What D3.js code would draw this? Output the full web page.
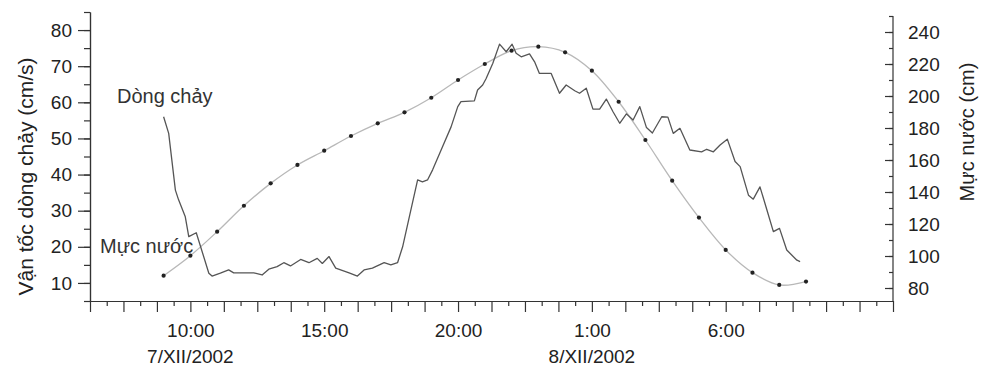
<!DOCTYPE html>
<html>
<head>
<meta charset="utf-8">
<script src="https://cdn.jsdelivr.net/npm/d3@7/dist/d3.min.js"></script>
<style>
body { margin: 0; background: #fff; }
svg { font-family: "Liberation Sans", Arial, sans-serif; }
</style>
</head>
<body>
<svg width="987" height="372"></svg>
<script>
// time is in hours counted from 7/XII/2002 0:00
var levelHours = [9, 10, 11, 12, 13, 14, 15, 16, 17, 18, 19, 20, 21, 22, 23, 24, 25, 26, 27, 28, 29, 30, 31, 32, 33];
var levelValues = [87.7, 100.2, 115.2, 131.4, 145.4, 156.9, 165.8, 175, 182.9, 189.8, 198.9, 210, 220, 228.3, 230.8,
	227.3, 215.8, 196.4, 172.5, 147.1, 124, 103.8, 89.6, 81.9, 84];

var flowHours = [9.00, 9.19, 9.44, 9.56, 9.81, 9.94, 10.22, 10.69, 10.81, 11.12, 11.43, 11.62, 11.93, 12.37, 12.68,
	12.93, 13.24, 13.49, 13.74, 14.12, 14.43, 14.74, 14.93, 15.18, 15.43, 15.93, 16.24, 16.49, 16.80, 17.24,
	17.49, 17.74, 17.93, 18.18, 18.49, 18.67, 18.86, 19.05, 19.42, 19.74, 19.99, 20.11, 20.61, 20.73, 20.92,
	21.05, 21.30, 21.55, 21.80, 22.02, 22.17, 22.36, 22.67, 22.86, 23.04, 23.48, 23.79, 24.04, 24.36, 24.54,
	24.79, 25.04, 25.29, 25.54, 25.79, 26.04, 26.29, 26.54, 26.79, 27.04, 27.26, 27.61, 27.84, 28.04, 28.29,
	28.66, 29.10, 29.29, 29.54, 29.79, 30.06, 30.35, 30.54, 30.85, 31.03, 31.28, 31.54, 31.78, 32.01, 32.28,
	32.66, 32.78];
var flowValues = [56.0, 51.4, 35.7, 33.0, 28.3, 22.8, 23.9, 12.7, 11.9, 12.7, 13.6, 12.8, 12.8, 12.8, 12.2,
	13.8, 14.5, 15.6, 14.7, 16.5, 15.6, 16.8, 15.4, 17.3, 14.1, 12.8, 11.9, 13.6, 14.1, 15.6,
	15.0, 15.6, 20.0, 28.3, 38.5, 38.0, 38.5, 41.3, 47.7, 53.2, 58.8, 60.2, 60.4, 63.4, 64.8,
	66.6, 70.8, 76.1, 74.0, 76.1, 73.6, 72.6, 73.4, 71.2, 68.0, 68.0, 62.5, 64.8, 63.2, 62.5,
	63.9, 58.1, 58.1, 60.9, 57.4, 54.2, 56.8, 55.1, 58.8, 53.0, 51.5, 56.0, 55.9, 51.4, 52.8,
	46.8, 46.3, 47.0, 46.3, 48.2, 49.8, 43.6, 42.2, 34.3, 33.2, 36.6, 30.2, 24.2, 25.1, 19.1,
	16.3, 15.9];

var hourLabelAt = [10, 15, 20, 25, 30];
var hourLabels = ['10:00', '15:00', '20:00', '1:00', '6:00'];
var dateLabelAt = [10, 25];
var dateLabels = ['7/XII/2002', '8/XII/2002'];

var svg = d3.select('svg');
var margin = { top: 12, right: 94, bottom: 71, left: 90 };
var width = +svg.attr('width') - margin.left - margin.right;
var height = +svg.attr('height') - margin.top - margin.bottom;
var g = svg.append('g').attr('transform', `translate(${margin.left}, ${margin.top})`);

var x = d3.scaleLinear().domain([6.25, 36.25]).range([0, width]);
var yL = d3.scaleLinear().domain([5, 85]).range([height, 0]);
var yR = d3.scaleLinear().domain([71.875, 252.5]).range([height, 0]);

var level = levelHours.map((t, i) => ({ t: t, v: levelValues[i] }));
var flow = flowHours.map((t, i) => ({ t: t, v: flowValues[i] }));

// axes
function styleAxis(a) {
	a.selectAll('path, line').attr('stroke', '#333').attr('stroke-width', 1.2);
	a.selectAll('text').attr('fill', '#222').style('font-size', '19px');
}

g.append('g')
	.call(d3.axisLeft(yL).tickValues(d3.range(5, 86, 5)).tickSize(6).tickSizeOuter(0).tickFormat(''))
	.call(styleAxis);
g.append('g')
	.call(d3.axisLeft(yL).tickValues(d3.range(10, 81, 10)).tickSize(12).tickSizeOuter(0).tickPadding(6))
	.call(styleAxis);

g.append('g')
	.attr('transform', `translate(${width}, 0)`)
	.call(d3.axisRight(yR).tickValues(d3.range(80, 251, 10)).tickSizeInner(-4).tickSizeOuter(0).tickFormat(''))
	.call(styleAxis)
	.call(a => a.select('.domain').attr('d', `M0,${yR(71.875)}V${yR(250)}`));
g.append('g')
	.attr('transform', `translate(${width}, 0)`)
	.call(d3.axisRight(yR).tickValues(d3.range(80, 241, 20)).tickSizeInner(-8).tickSizeOuter(0).tickPadding(15))
	.call(styleAxis)
	.call(a => a.select('.domain').remove());

g.append('g')
	.attr('transform', `translate(0, ${height})`)
	.call(d3.axisBottom(x).tickValues(d3.range(6.875, 36.25, 1.25)).tickSize(5).tickSizeOuter(0).tickFormat(''))
	.call(styleAxis);
g.append('g')
	.attr('transform', `translate(0, ${height})`)
	.call(d3.axisBottom(x).tickValues(d3.range(6.25, 36.3, 1.25)).tickSize(11).tickSizeOuter(0).tickPadding(12)
		.tickFormat(d => {
			var i = hourLabelAt.indexOf(d);
			return i < 0 ? '' : hourLabels[i];
		}))
	.call(styleAxis);

g.selectAll('.date-label')
	.data(dateLabels)
	.enter().append('text')
	.attr('class', 'date-label')
	.attr('x', (d, i) => x(dateLabelAt[i]))
	.attr('y', height + 62)
	.attr('text-anchor', 'middle')
	.attr('fill', '#222')
	.style('font-size', '19px')
	.text(d => d);

// axis titles
svg.append('text')
	.attr('transform', `translate(33, ${margin.top + height / 2 + 20}) rotate(-90)`)
	.attr('text-anchor', 'middle')
	.attr('fill', '#222')
	.style('font-size', '21px')
	.text('Vận tốc dòng chảy (cm/s)');

svg.append('text')
	.attr('transform', `translate(974, 132) rotate(-90)`)
	.attr('text-anchor', 'middle')
	.attr('fill', '#222')
	.style('font-size', '20px')
	.text('Mực nước (cm)');

// water level
g.append('path')
	.datum(level)
	.attr('fill', 'none')
	.attr('stroke', '#b8b8b8')
	.attr('stroke-width', 1.3)
	.attr('d', d3.line().curve(d3.curveCatmullRom).x(d => x(d.t)).y(d => yR(d.v)));

g.selectAll('.dot')
	.data(level)
	.enter().append('circle')
	.attr('class', 'dot')
	.attr('cx', d => x(d.t))
	.attr('cy', d => yR(d.v))
	.attr('r', 2.1)
	.attr('fill', '#222');

// flow velocity
g.append('path')
	.datum(flow)
	.attr('fill', 'none')
	.attr('stroke', '#555')
	.attr('stroke-width', 1.3)
	.attr('stroke-linejoin', 'round')
	.attr('d', d3.line().x(d => x(d.t)).y(d => yL(d.v)));

// series labels
g.append('text')
	.attr('x', 27)
	.attr('y', 91)
	.attr('fill', '#333')
	.style('font-size', '20px')
	.text('Dòng chảy');

g.append('text')
	.attr('x', 10)
	.attr('y', 241)
	.attr('fill', '#333')
	.style('font-size', '20px')
	.text('Mực nước');
</script>
</body>
</html>
